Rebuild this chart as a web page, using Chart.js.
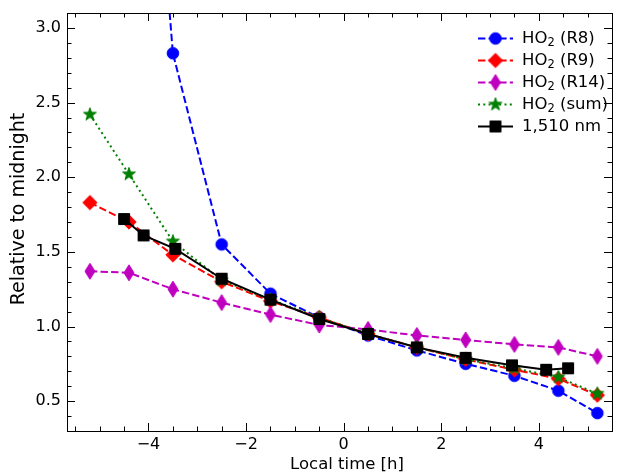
<!DOCTYPE html>
<html>
<head>
<meta charset="utf-8">
<script src="https://cdn.jsdelivr.net/npm/chart.js@4.4.1/dist/chart.umd.min.js"></script>
<style>
    body { margin: 0; background: #fff; }
    #wrap { width: 620px; height: 475px; }
</style>
</head>
<body>
<div id="wrap"><canvas id="chart" width="620" height="475"></canvas></div>
<script>
// local time of the spectra (h)
const timeHO2 = [-5.2, -4.4, -3.5, -2.5, -1.5, -0.5, 0.5, 1.5, 2.5, 3.5, 4.4, 5.2];
const timeNm = [-4.5, -4.1, -3.45, -2.5, -1.5, -0.5, 0.5, 1.5, 2.5, 3.45, 4.15, 4.6];

// values relative to midnight
const ho2R8 = [null, 6.5, 2.83, 1.55, 1.22, 1.06, 0.94, 0.84, 0.75, 0.67, 0.57, 0.42];
const ho2R9 = [1.83, 1.70, 1.48, 1.30, 1.17, 1.06, 0.95, 0.86, 0.78, 0.71, 0.65, 0.54];
const ho2R14 = [1.37, 1.36, 1.25, 1.16, 1.08, 1.01, 0.98, 0.94, 0.91, 0.88, 0.86, 0.80];
const ho2Sum = [2.42, 2.02, 1.57, 1.31, 1.18, 1.06, 0.95, 0.86, 0.78, 0.72, 0.66, 0.55];
const nm1510 = [1.72, 1.61, 1.52, 1.32, 1.18, 1.05, 0.95, 0.86, 0.79, 0.74, 0.71, 0.72];

const xTicks = [-4, -2, 0, 2, 4];
const yTicks = [0.5, 1.0, 1.5, 2.0, 2.5, 3.0];

const FONT = 'DejaVu Sans';

// marker images, drawn like the matplotlib ones
function makeMarker(shape, color) {
    const c = document.createElement('canvas');
    const s = 18;
    c.width = s;
    c.height = s;
    const ctx = c.getContext('2d');
    const m = s / 2;
    ctx.fillStyle = color;
    ctx.strokeStyle = color;
    ctx.lineWidth = 1;
    ctx.beginPath();
    if (shape === 'circle') {
        ctx.arc(m, m, 5.8, 0, Math.PI * 2);
    } else if (shape === 'diamond') {
        ctx.moveTo(m, m - 7.2);
        ctx.lineTo(m + 7.2, m);
        ctx.lineTo(m, m + 7.2);
        ctx.lineTo(m - 7.2, m);
    } else if (shape === 'thin') {
        ctx.moveTo(m, m - 8);
        ctx.lineTo(m + 5, m);
        ctx.lineTo(m, m + 8);
        ctx.lineTo(m - 5, m);
    } else if (shape === 'star') {
        for (let i = 0; i < 10; i++) {
            const r = i % 2 === 0 ? 6.8 : 2.7;
            const a = -Math.PI / 2 + i * Math.PI / 5;
            const px = m + r * Math.cos(a);
            const py = m + r * Math.sin(a);
            if (i === 0) ctx.moveTo(px, py); else ctx.lineTo(px, py);
        }
    } else if (shape === 'square') {
        ctx.rect(m - 5.5, m - 5.5, 11, 11);
    }
    ctx.closePath();
    ctx.fill();
    ctx.stroke();
    return c;
}

function toPoints(xs, ys) {
    return xs.map((x, i) => ({ x: x, y: ys[i] }));
}

const series = [
    { label: 'HO2 (R8)', xs: timeHO2, ys: ho2R8, color: '#0000ff', dash: [7.4, 3.2], marker: 'circle' },
    { label: 'HO2 (R9)', xs: timeHO2, ys: ho2R9, color: '#ff0000', dash: [7.4, 3.2], marker: 'diamond' },
    { label: 'HO2 (R14)', xs: timeHO2, ys: ho2R14, color: '#bf00bf', dash: [7.4, 3.2], marker: 'thin' },
    { label: 'HO2 (sum)', xs: timeHO2, ys: ho2Sum, color: '#008000', dash: [2, 3.3], marker: 'star' },
    { label: '1,510 nm', xs: timeNm, ys: nm1510, color: '#000000', dash: [], marker: 'square' }
];

const datasets = series.map(function (s, i) {
    const img = makeMarker(s.marker, s.color);
    return {
        label: s.label,
        data: toPoints(s.xs, s.ys),
        borderColor: s.color,
        backgroundColor: s.color,
        borderWidth: 2,
        borderDash: s.dash,
        pointStyle: img,
        pointRadius: 6,
        pointHoverRadius: 6,
        tension: 0,
        order: series.length - i,
        clip: 0
    };
});

// inward ticks on all four sides, the frame and the axis titles
const framePlugin = {
    id: 'frame',
    afterDatasetsDraw(chart) {
        const ctx = chart.ctx;
        const a = chart.chartArea;
        const xs = chart.scales.x;
        const ys = chart.scales.y;
        ctx.save();
        ctx.strokeStyle = '#000';
        ctx.lineWidth = 1;
        ctx.beginPath();
        // x ticks, major every 2, minor every 0.5
        for (let v = -5.5; v <= 5.5 + 1e-9; v += 0.5) {
            const px = Math.round(xs.getPixelForValue(v)) + 0.5;
            if (px < a.left || px > a.right) continue;
            const len = Math.abs(v / 2 - Math.round(v / 2)) < 1e-6 ? 8 : 4.5;
            ctx.moveTo(px, a.bottom);
            ctx.lineTo(px, a.bottom - len);
            ctx.moveTo(px, a.top);
            ctx.lineTo(px, a.top + len);
        }
        // y ticks, major every 0.5, minor every 0.1
        for (let k = 3; k <= 31; k++) {
            const v = k / 10;
            const py = Math.round(ys.getPixelForValue(v)) + 0.5;
            if (py < a.top || py > a.bottom) continue;
            const len = k % 5 === 0 ? 8 : 4.5;
            ctx.moveTo(a.left, py);
            ctx.lineTo(a.left + len, py);
            ctx.moveTo(a.right, py);
            ctx.lineTo(a.right - len, py);
        }
        ctx.stroke();
        ctx.strokeRect(Math.round(a.left) + 0.5, Math.round(a.top) + 0.5,
            Math.round(a.right - a.left), Math.round(a.bottom - a.top));

        ctx.fillStyle = '#000';
        ctx.textAlign = 'center';
        ctx.textBaseline = 'middle';
        ctx.font = '16.5px "' + FONT + '"';
        ctx.fillText('Local time [h]', 347, 465);

        ctx.translate(19, 209);
        ctx.rotate(-Math.PI / 2);
        ctx.font = '19px "' + FONT + '"';
        ctx.fillText('Relative to midnight', 0, 0);
        ctx.restore();
    }
};

// legend in the upper right, no frame, with a subscript 2
const legendPlugin = {
    id: 'legendBox',
    afterDraw(chart) {
        const ctx = chart.ctx;
        ctx.save();
        series.forEach(function (s, i) {
            const y = 38.5 + i * 22;
            const ds = chart.data.datasets[i];
            ctx.strokeStyle = s.color;
            ctx.lineWidth = 2;
            ctx.setLineDash(s.dash);
            ctx.beginPath();
            ctx.moveTo(478, y);
            ctx.lineTo(513, y);
            ctx.stroke();
            ctx.setLineDash([]);
            const img = ds.pointStyle;
            ctx.drawImage(img, 495.5 - img.width / 2, y - img.height / 2);

            ctx.fillStyle = '#000';
            ctx.textBaseline = 'middle';
            ctx.textAlign = 'left';
            let x = 522;
            if (s.label.indexOf('HO2') === 0) {
                ctx.font = '16.5px "' + FONT + '"';
                ctx.fillText('HO', x, y);
                x += ctx.measureText('HO').width;
                ctx.font = '11.5px "' + FONT + '"';
                ctx.fillText('2', x, y + 4.5);
                x += ctx.measureText('2').width;
                ctx.font = '16.5px "' + FONT + '"';
                ctx.fillText(s.label.slice(3), x, y);
            } else {
                ctx.font = '16.5px "' + FONT + '"';
                ctx.fillText(s.label, x, y);
            }
        });
        ctx.restore();
    }
};

const ctx = document.getElementById('chart').getContext('2d');
new Chart(ctx, {
    type: 'line',
    data: { datasets: datasets },
    options: {
        responsive: false,
        animation: false,
        events: [],
        layout: { padding: { top: 13, right: 3, left: 0, bottom: 0 } },
        plugins: {
            legend: { display: false },
            tooltip: { enabled: false }
        },
        scales: {
            x: {
                type: 'linear',
                min: -5.67,
                max: 5.5,
                afterBuildTicks: function (scale) {
                    scale.ticks = xTicks.map(v => ({ value: v }));
                },
                afterFit: function (scale) {
                    scale.height = 44;
                    scale.paddingLeft = 0;
                    scale.paddingRight = 0;
                },
                grid: { display: false, drawTicks: false },
                border: { display: false },
                ticks: {
                    color: '#000',
                    padding: 4,
                    maxRotation: 0,
                    font: { family: FONT, size: 16 },
                    callback: function (v) { return v < 0 ? '\u2212' + Math.abs(v) : String(v); }
                },
                title: { display: false }
            },
            y: {
                type: 'linear',
                min: 0.3,
                max: 3.1,
                afterBuildTicks: function (scale) {
                    scale.ticks = yTicks.map(v => ({ value: v }));
                },
                afterFit: function (scale) {
                    scale.width = 67;
                    scale.paddingTop = 0;
                    scale.paddingBottom = 0;
                },
                grid: { display: false, drawTicks: false },
                border: { display: false },
                ticks: {
                    color: '#000',
                    padding: 6,
                    font: { family: FONT, size: 16 },
                    callback: function (v) { return Number(v).toFixed(1); }
                },
                title: { display: false }
            }
        }
    },
    plugins: [framePlugin, legendPlugin]
});
</script>
</body>
</html>
